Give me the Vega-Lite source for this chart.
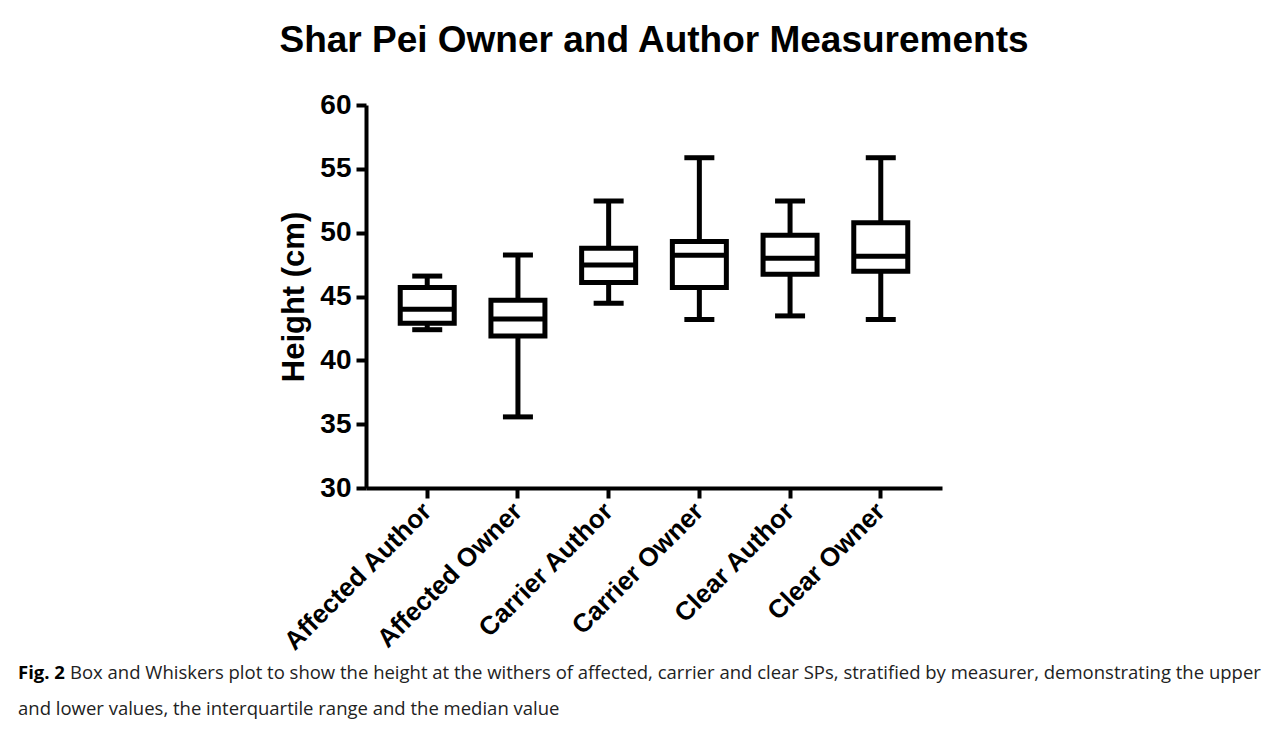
{
  "$schema": "https://vega.github.io/schema/vega-lite/v6.json",
  "background": "white",
  "padding": {"left": 18, "top": 22, "right": 5, "bottom": 5},
  "title": {
    "text": "Shar Pei Owner and Author Measurements",
    "font": "Liberation Sans",
    "fontSize": 37,
    "fontWeight": "bold",
    "color": "black",
    "anchor": "middle",
    "offset": 31
  },
  "bounds": "flush",
  "center": true,
  "spacing": 167,
  "vconcat": [
    {
      "width": 576,
      "height": 383,
      "data": {
        "values": [
          {"group": "Affected Author", "min": 42.4, "q1": 42.9, "median": 44.0, "q3": 45.7, "max": 46.6},
          {"group": "Affected Owner", "min": 35.57, "q1": 41.9, "median": 43.24, "q3": 44.7, "max": 48.25},
          {"group": "Carrier Author", "min": 44.47, "q1": 46.1, "median": 47.47, "q3": 48.78, "max": 52.48},
          {"group": "Carrier Owner", "min": 43.2, "q1": 45.7, "median": 48.23, "q3": 49.3, "max": 55.87},
          {"group": "Clear Author", "min": 43.48, "q1": 46.74, "median": 48.0, "q3": 49.8, "max": 52.48},
          {"group": "Clear Owner", "min": 43.2, "q1": 46.98, "median": 48.15, "q3": 50.78, "max": 55.87}
        ]
      },
      "encoding": {
        "x": {
          "field": "group",
          "type": "nominal",
          "sort": null,
          "scale": {"paddingInner": 0, "paddingOuter": 0.175},
          "axis": {
            "title": null,
            "labelAngle": -45,
            "labelAlign": "right",
            "labelBaseline": "middle",
            "labelFont": "Liberation Sans",
            "labelFontSize": 26,
            "labelFontWeight": "bold",
            "labelColor": "black",
            "labelPadding": 9,
            "labelLimit": 0,
            "labelOverlap": false,
            "domainColor": "black",
            "domainWidth": 4,
            "tickColor": "black",
            "tickWidth": 4,
            "tickSize": 10
          }
        }
      },
      "layer": [
        {
          "mark": {"type": "rule", "strokeWidth": 5, "color": "black"},
          "encoding": {
            "y": {
              "field": "min",
              "type": "quantitative",
              "scale": {"domain": [30, 60], "nice": false, "zero": false},
              "axis": {
                "values": [30, 35, 40, 45, 50, 55, 60],
                "title": "Height (cm)",
                "titleFont": "Liberation Sans",
                "titleFontSize": 31,
                "titleFontWeight": "bold",
                "titleColor": "black",
                "titlePadding": 9,
                "labelFont": "Liberation Sans",
                "labelFontSize": 28,
                "labelFontWeight": "bold",
                "labelColor": "black",
                "labelPadding": 5,
                "domainColor": "black",
                "domainWidth": 4,
                "tickColor": "black",
                "tickWidth": 4,
                "tickSize": 10,
                "grid": false
              }
            },
            "y2": {"field": "max"}
          }
        },
        {
          "mark": {"type": "bar", "size": 54, "fill": "white", "stroke": "black", "strokeWidth": 5},
          "encoding": {
            "y": {"field": "q1", "type": "quantitative"},
            "y2": {"field": "q3"}
          }
        },
        {
          "mark": {"type": "tick", "size": 54, "thickness": 5, "color": "black", "opacity": 1},
          "encoding": {"y": {"field": "median", "type": "quantitative"}}
        },
        {
          "mark": {"type": "tick", "size": 30, "thickness": 5, "color": "black", "opacity": 1},
          "encoding": {"y": {"field": "min", "type": "quantitative"}}
        },
        {
          "mark": {"type": "tick", "size": 30, "thickness": 5, "color": "black", "opacity": 1},
          "encoding": {"y": {"field": "max", "type": "quantitative"}}
        }
      ]
    },
    {
      "width": 1272,
      "height": 72,
      "data": {
        "values": [
          {"line": 1, "lead": "Fig. 2", "text": "Box and Whiskers plot to show the height at the withers of affected, carrier and clear SPs, stratified by measurer, demonstrating the upper"},
          {"line": 2, "lead": "", "text": "and lower values, the interquartile range and the median value"}
        ]
      },
      "encoding": {
        "y": {"field": "line", "type": "ordinal", "axis": null},
        "x": {"datum": 0, "type": "quantitative", "scale": {"domain": [0, 1]}, "axis": null}
      },
      "layer": [
        {
          "mark": {"type": "text", "align": "left", "baseline": "middle", "font": "Open Sans", "fontSize": 18.5, "fontWeight": "bold", "color": "black"},
          "encoding": {"text": {"field": "lead"}}
        },
        {
          "transform": [{"filter": "datum.line == 1"}],
          "mark": {"type": "text", "align": "left", "baseline": "middle", "font": "Open Sans", "fontSize": 18.5, "color": "#222", "dx": 52},
          "encoding": {"text": {"field": "text"}}
        },
        {
          "transform": [{"filter": "datum.line == 2"}],
          "mark": {"type": "text", "align": "left", "baseline": "middle", "font": "Open Sans", "fontSize": 18.5, "color": "#222"},
          "encoding": {"text": {"field": "text"}}
        }
      ]
    }
  ],
  "config": {"view": {"stroke": null}}
}
